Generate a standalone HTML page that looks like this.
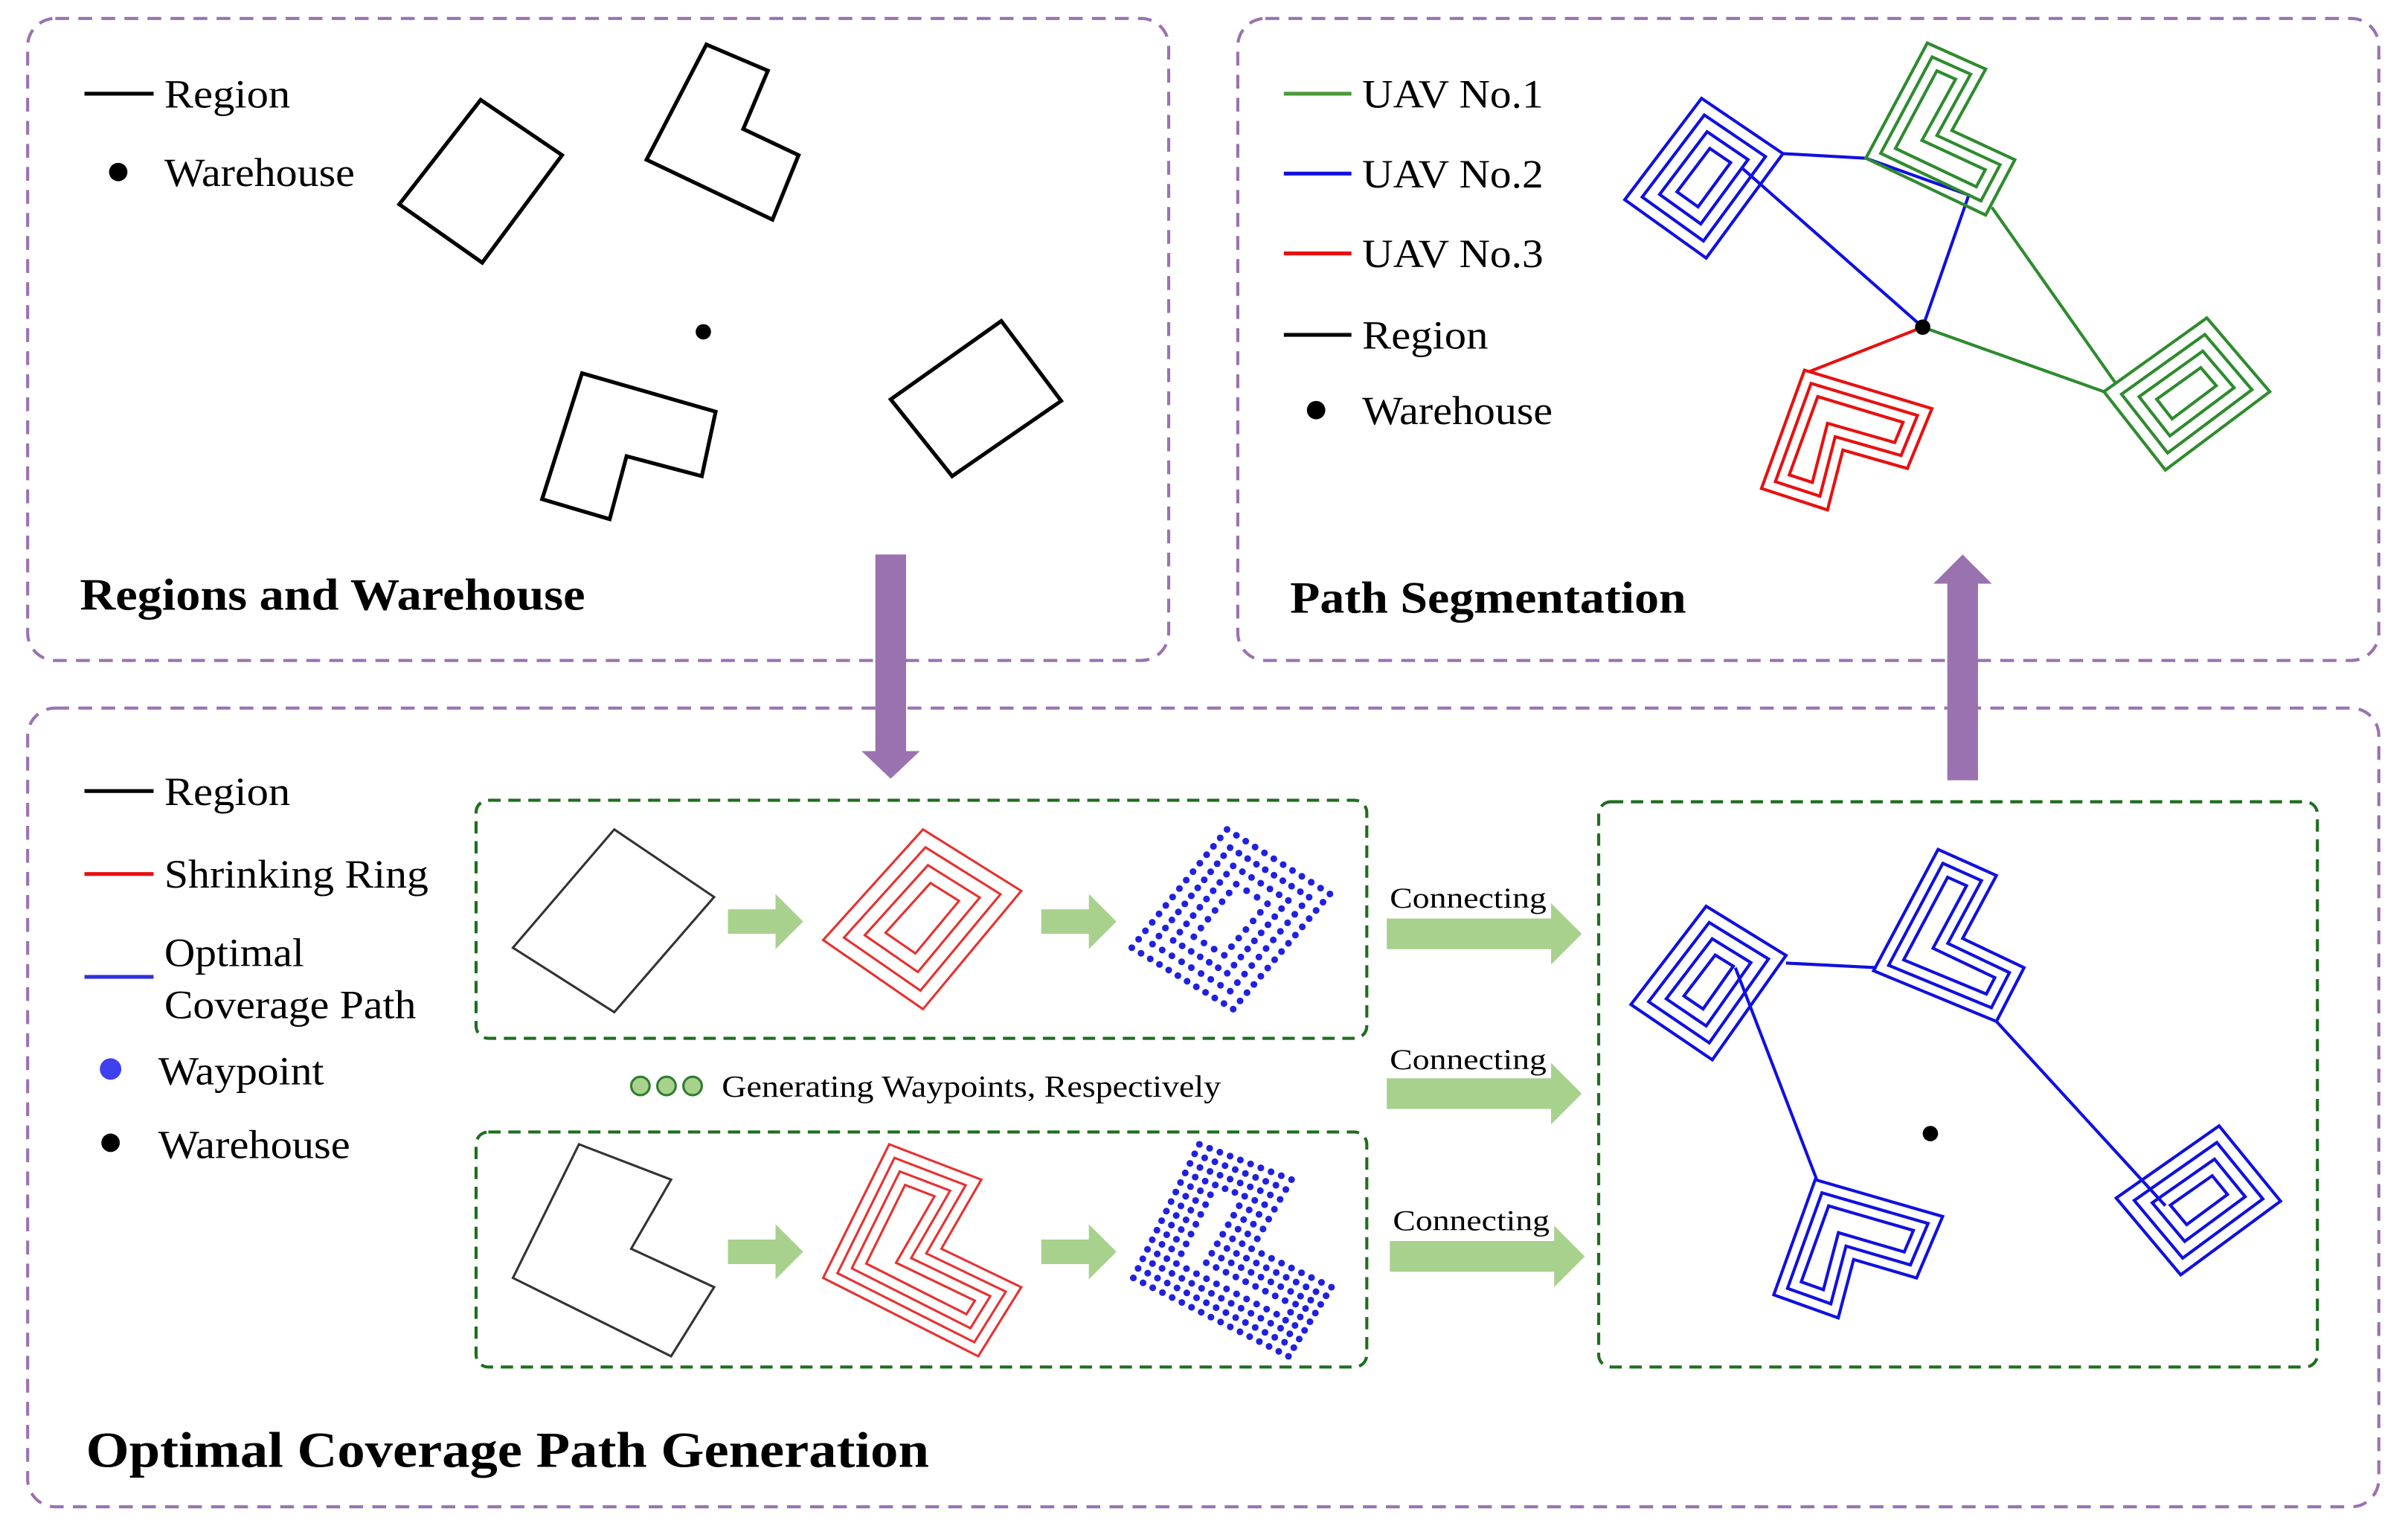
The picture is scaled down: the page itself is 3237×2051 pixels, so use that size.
<!DOCTYPE html>
<html><head><meta charset="utf-8"><style>
html,body{margin:0;padding:0;background:#fff;}
svg{display:block;}
text{font-family:"Liberation Serif",serif;}
</style></head><body>
<svg id="s" width="3237" height="2051" viewBox="0 0 1568 993.5" xmlns="http://www.w3.org/2000/svg">
<g fill="none" stroke="#9b72b0" stroke-width="2" stroke-dasharray="9,6">
<rect x="18" y="12" width="743" height="418" rx="18"/>
<rect x="806" y="12" width="743" height="418" rx="18"/>
<rect x="18" y="461" width="1531" height="520" rx="18"/>
</g>
<g fill="none" stroke="#1e6e1e" stroke-width="2" stroke-dasharray="8,5">
<rect x="310" y="521" width="580" height="155" rx="8"/>
<rect x="310" y="737" width="580" height="153" rx="8"/>
<rect x="1041" y="522" width="468" height="368" rx="8"/>
</g>
<g fill="#9b72b0">
<rect x="570" y="361" width="20" height="129"/><polygon points="561,489 599,489 580,507"/>
<rect x="1268" y="378" width="20" height="130"/><polygon points="1259,380 1297,380 1278,361"/>
</g>
<g fill="#a9d18e">
<polygon points="474,592 505,592 505,582 523,600 505,618 505,608 474,608"/>
<polygon points="678,592 709,592 709,582 727,600 709,618 709,608 678,608"/>
<polygon points="474,807 505,807 505,797 523,815 505,833 505,823 474,823"/>
<polygon points="678,807 709,807 709,797 727,815 709,833 709,823 678,823"/>
<polygon points="903,598 1010,598 1010,588 1030,608 1010,628 1010,618 903,618"/>
<polygon points="903,702 1010,702 1010,692 1030,712 1010,732 1010,722 903,722"/>
<polygon points="905,808 1012,808 1012,798 1032,818 1012,838 1012,828 905,828"/>
</g>
<g font-size="19" fill="#000" lengthAdjust="spacingAndGlyphs">
<text x="905" y="591" textLength="102" lengthAdjust="spacingAndGlyphs">Connecting</text>
<text x="905" y="696" textLength="102" lengthAdjust="spacingAndGlyphs">Connecting</text>
<text x="907" y="801" textLength="102" lengthAdjust="spacingAndGlyphs">Connecting</text>
</g>
<g fill="#a9d18e" stroke="#2e7d2e" stroke-width="1.5">
<circle cx="417" cy="707" r="6"/><circle cx="434" cy="707" r="6"/><circle cx="451" cy="707" r="6"/>
</g>
<text x="470" y="714" font-size="20" textLength="325" lengthAdjust="spacingAndGlyphs">Generating Waypoints, Respectively</text>
<g stroke-width="2.5" fill="none" stroke="#000">
<line x1="55" y1="61" x2="100" y2="61"/>
<polygon points="260,133 313,65 366,101 314,171"/>
<polygon points="460,29 500,46 484,84 520,101 503,143 421,104"/>
<polygon points="379,243 466,268 457,310 408,297 397,338 353,325"/>
<polygon points="580,260 652,209 691,261 620,310"/>
</g>
<circle cx="77" cy="112" r="6"/><circle cx="458" cy="216" r="5"/>
<g font-size="26"><text x="107" y="70" textLength="82" lengthAdjust="spacingAndGlyphs">Region</text><text x="107" y="121" textLength="124" lengthAdjust="spacingAndGlyphs">Warehouse</text></g>
<text x="52" y="397" font-size="29" font-weight="bold" textLength="329" lengthAdjust="spacingAndGlyphs">Regions and Warehouse</text>
<g stroke-width="2.5">
<line x1="836" y1="61" x2="880" y2="61" stroke="#4a9a3a"/>
<line x1="836" y1="113" x2="880" y2="113" stroke="#1010e0"/>
<line x1="836" y1="165" x2="880" y2="165" stroke="#e81010"/>
<line x1="836" y1="218" x2="880" y2="218" stroke="#000"/>
</g>
<circle cx="857" cy="267" r="6"/>
<g font-size="26"><text x="887" y="70" textLength="118" lengthAdjust="spacingAndGlyphs">UAV No.1</text><text x="887" y="122" textLength="118" lengthAdjust="spacingAndGlyphs">UAV No.2</text><text x="887" y="174" textLength="118" lengthAdjust="spacingAndGlyphs">UAV No.3</text><text x="887" y="227" textLength="82" lengthAdjust="spacingAndGlyphs">Region</text><text x="887" y="276" textLength="124" lengthAdjust="spacingAndGlyphs">Warehouse</text></g>
<text x="840" y="399" font-size="29" font-weight="bold" textLength="258" lengthAdjust="spacingAndGlyphs">Path Segmentation</text>
<g stroke-width="2">
<polyline fill="none" stroke="#1010e0" points="1161,100 1215,103 1282,127 1252,213 1135,110"/>
<polyline fill="none" stroke="#2e8b2e" points="1297,135 1378,250"/>
<polyline fill="none" stroke="#2e8b2e" points="1252,213 1370,255"/>
<polyline fill="none" stroke="#e81010" points="1252,213 1178,242"/>
</g>
<circle cx="1252" cy="213" r="5"/>
<g stroke-width="2.5">
<line x1="55" y1="515" x2="100" y2="515" stroke="#000"/>
<line x1="55" y1="569" x2="100" y2="569" stroke="#e81010"/>
<line x1="55" y1="636" x2="100" y2="636" stroke="#3030e0"/>
</g>
<circle cx="72" cy="696" r="7" fill="#4040f0"/><circle cx="72" cy="744" r="6"/>
<g font-size="26"><text x="107" y="524" textLength="82" lengthAdjust="spacingAndGlyphs">Region</text><text x="107" y="578" textLength="172" lengthAdjust="spacingAndGlyphs">Shrinking Ring</text><text x="107" y="629" textLength="91" lengthAdjust="spacingAndGlyphs">Optimal</text><text x="107" y="663" textLength="164" lengthAdjust="spacingAndGlyphs">Coverage Path</text><text x="103" y="706" textLength="108" lengthAdjust="spacingAndGlyphs">Waypoint</text><text x="103" y="754" textLength="125" lengthAdjust="spacingAndGlyphs">Warehouse</text></g>
<text x="56" y="955" font-size="33" font-weight="bold" textLength="549" lengthAdjust="spacingAndGlyphs">Optimal Coverage Path Generation</text>
<g fill="none" stroke="#333" stroke-width="1.5">
<polygon points="334,617 400,540 465,584 400,659"/>
<polygon points="334,832 377,745 437,768 411,813 465,838 437,883"/>
</g>
<g stroke="#1010e0" stroke-width="2">
<line x1="1163" y1="627" x2="1222" y2="630"/>
<line x1="1130" y1="630" x2="1183" y2="768"/>
<line x1="1300" y1="665" x2="1410" y2="785"/>
</g>
<circle cx="1257" cy="738" r="5"/>
<g id="gen"></g>
</svg>
<script>
var g=document.getElementById('gen'),NS='http://www.w3.org/2000/svg';
function inset(p,d){
  var n=p.length,A=0;
  for(var i=0;i<n;i++){var a=p[i],b=p[(i+1)%n];A+=a[0]*b[1]-b[0]*a[1];}
  var s=A>0?1:-1,lines=[];
  for(var i=0;i<n;i++){var a=p[i],b=p[(i+1)%n];var dx=b[0]-a[0],dy=b[1]-a[1],L=Math.hypot(dx,dy);
    var nx=-dy/L*s,ny=dx/L*s; lines.push([[a[0]+nx*d,a[1]+ny*d],[dx,dy]]);}
  var out=[];
  for(var i=0;i<n;i++){var l1=lines[(i-1+n)%n],l2=lines[i];
    var p1=l1[0],d1=l1[1],p2=l2[0],d2=l2[1];var den=d1[0]*d2[1]-d1[1]*d2[0];
    var t=((p2[0]-p1[0])*d2[1]-(p2[1]-p1[1])*d2[0])/den; out.push([p1[0]+d1[0]*t,p1[1]+d1[1]*t]);}
  return out;
}
function nest(p,n,sp,col,w,dots){
  for(var i=0;i<n;i++){
    var pts=i==0?p:inset(p,sp*i);
    if(dots){
      for(var k=0;k<pts.length;k++){
        var a=pts[k],b=pts[(k+1)%pts.length];
        var L=Math.hypot(b[0]-a[0],b[1]-a[1]),m=Math.max(1,Math.round(L/7));
        for(var j=0;j<m;j++){
          var c=document.createElementNS(NS,'circle');
          c.setAttribute('cx',a[0]+(b[0]-a[0])*j/m);c.setAttribute('cy',a[1]+(b[1]-a[1])*j/m);
          c.setAttribute('r',2.2);c.setAttribute('fill','#2020e0');g.appendChild(c);
        }
      }
    }else{
      var e=document.createElementNS(NS,'polygon');
      e.setAttribute('points',pts.map(function(q){return q.join(',');}).join(' '));
      e.setAttribute('fill','none');e.setAttribute('stroke',col);e.setAttribute('stroke-width',w);
      g.appendChild(e);
    }
  }
}
function off(p,dx,dy){return p.map(function(q){return [q[0]+dx,q[1]+dy];});}
nest([[536,612],[601,540],[665,580],[601,657]],4,9,'#e83030',1.5);
nest([[737,617],[799,540],[866,582],[803,657]],4,9,'',0,true);
var Lr=[[536,832],[579,745],[639,768],[613,813],[665,838],[637,883]];
nest(Lr,4,7,'#e83030',1.5);
nest(off(Lr,202,0),4,7,'',0,true);
nest([[1062,654],[1111,590],[1163,622],[1115,690]],4,8,'#1010e0',2);
nest([[1220,632],[1262,553],[1300,570],[1278,611],[1318,630],[1300,665]],3,7,'#1010e0',2);
nest([[1378,780],[1445,733],[1485,782],[1420,830]],4,8,'#1010e0',2);
nest([[1155,843],[1182,768],[1265,792],[1248,832],[1207,820],[1197,858]],3,7,'#1010e0',2);
nest([[1058,130],[1108,64],[1161,100],[1111,168]],4,8,'#1010e0',2);
nest([[1215,103],[1255,28],[1293,45],[1271,85],[1312,104],[1293,140]],3,7,'#2e8b2e',2);
nest([[1370,255],[1437,207],[1478,255],[1410,306]],4,8,'#2e8b2e',2);
nest([[1147,318],[1175,241],[1258,266],[1242,305],[1200,293],[1190,332]],3,7,'#e81010',2);
</script>
</body></html>
